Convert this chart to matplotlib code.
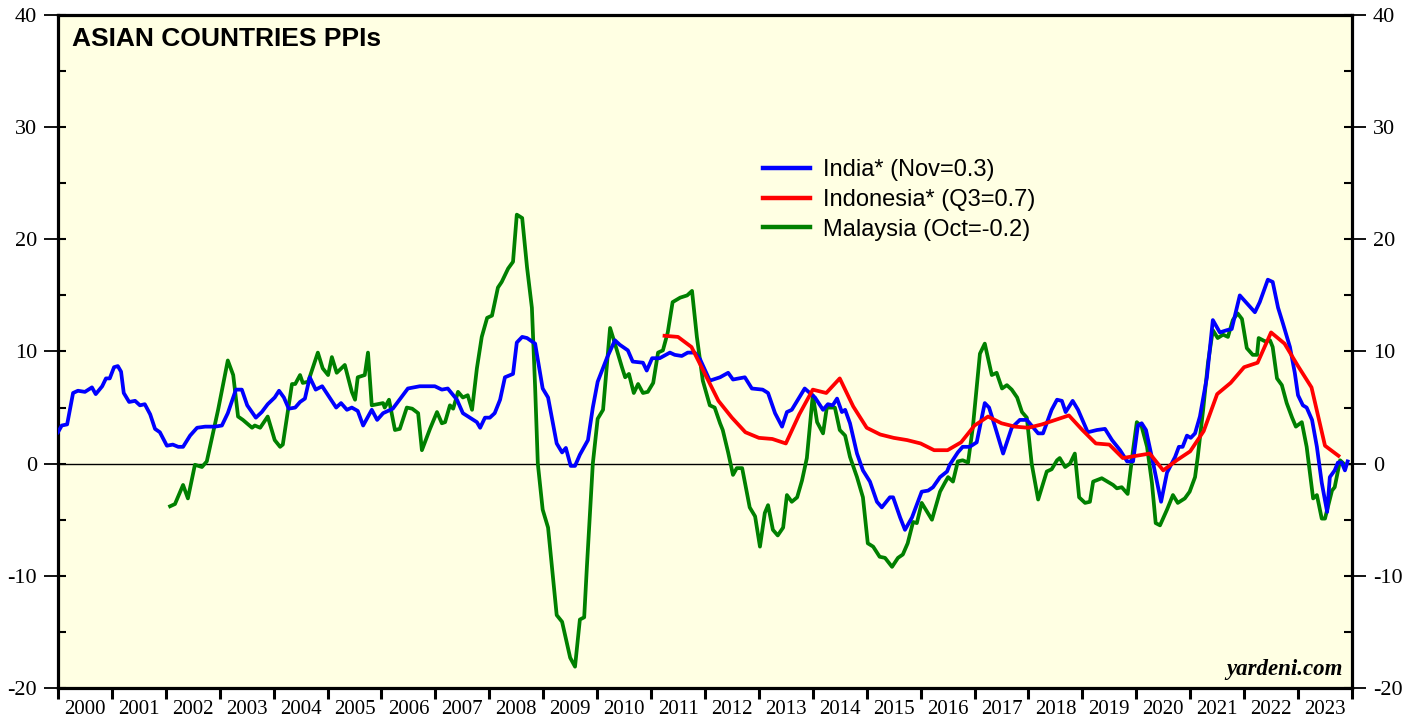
import numpy as np
import matplotlib.pyplot as plt
from matplotlib.ticker import MultipleLocator, FixedLocator, NullFormatter

plt.rcParams['axes.unicode_minus'] = False

# data: decimal years and yoy % values
india_t = [2000.00, 2000.07, 2000.17, 2000.28, 2000.37, 2000.50, 2000.63, 2000.70, 2000.82, 2000.89,
           2000.96, 2001.04, 2001.11, 2001.17, 2001.22, 2001.32, 2001.43, 2001.52, 2001.61, 2001.71,
           2001.80, 2001.89, 2002.02, 2002.13, 2002.23, 2002.32, 2002.45, 2002.58, 2002.73, 2002.91,
           2003.04, 2003.15, 2003.30, 2003.41, 2003.51, 2003.67, 2003.78, 2003.89, 2004.02, 2004.10,
           2004.19, 2004.28, 2004.40, 2004.49, 2004.58, 2004.67, 2004.78, 2004.90, 2005.01, 2005.16,
           2005.25, 2005.36, 2005.45, 2005.56, 2005.66, 2005.82, 2005.92, 2006.03, 2006.21, 2006.49,
           2006.71, 2006.99, 2007.12, 2007.23, 2007.40, 2007.51, 2007.77, 2007.83, 2007.92, 2008.01,
           2008.10, 2008.20, 2008.29, 2008.44, 2008.51, 2008.61, 2008.70, 2008.85, 2008.99, 2009.09,
           2009.25, 2009.35, 2009.42, 2009.51, 2009.59, 2009.68, 2009.83, 2009.92, 2010.01, 2010.18,
           2010.33, 2010.42, 2010.57, 2010.66, 2010.85, 2010.92, 2011.02, 2011.16, 2011.35, 2011.44,
           2011.57, 2011.68, 2011.81, 2011.91, 2012.09, 2012.28, 2012.43, 2012.52, 2012.74, 2012.87,
           2013.07, 2013.17, 2013.30, 2013.43, 2013.52, 2013.61, 2013.85, 2014.04, 2014.19, 2014.28,
           2014.37, 2014.45, 2014.54, 2014.60, 2014.69, 2014.82, 2014.93, 2015.06, 2015.19, 2015.28,
           2015.43, 2015.49, 2015.62, 2015.71, 2015.84, 2016.02, 2016.14, 2016.23, 2016.36, 2016.49,
           2016.54, 2016.69, 2016.78, 2016.91, 2017.04, 2017.19, 2017.27, 2017.38, 2017.53, 2017.69,
           2017.84, 2017.97, 2018.18, 2018.27, 2018.43, 2018.53, 2018.62, 2018.69, 2018.82, 2018.92,
           2019.10, 2019.27, 2019.42, 2019.55, 2019.70, 2019.83, 2019.94, 2020.03, 2020.10, 2020.18,
           2020.31, 2020.46, 2020.57, 2020.72, 2020.79, 2020.86, 2020.94, 2021.01, 2021.09, 2021.18,
           2021.31, 2021.42, 2021.55, 2021.68, 2021.77, 2021.92, 2022.05, 2022.20, 2022.29, 2022.44,
           2022.53, 2022.63, 2022.72, 2022.85, 2022.94, 2023.00, 2023.09, 2023.16, 2023.26, 2023.35,
           2023.44, 2023.54, 2023.59, 2023.68, 2023.74, 2023.81, 2023.87, 2023.92]
india_v = [2.8, 3.4, 3.5, 6.3, 6.5, 6.4, 6.8, 6.2, 6.9, 7.6,
           7.6, 8.6, 8.7, 8.2, 6.3, 5.5, 5.6, 5.2, 5.3, 4.4,
           3.1, 2.8, 1.6, 1.7, 1.5, 1.5, 2.5, 3.2, 3.3, 3.3,
           3.4, 4.5, 6.6, 6.6, 5.2, 4.1, 4.6, 5.3, 5.9, 6.5,
           5.9, 4.9, 5.0, 5.5, 5.8, 7.7, 6.6, 6.9, 6.1, 5.0,
           5.4, 4.8, 5.0, 4.7, 3.4, 4.8, 3.9, 4.5, 4.9, 6.7,
           6.9, 6.9, 6.6, 6.7, 5.7, 4.5, 3.7, 3.2, 4.1, 4.1,
           4.5, 5.7, 7.7, 8.0, 10.8, 11.3, 11.2, 10.7, 6.7, 5.9,
           1.8, 1.0, 1.4, -0.2, -0.2, 0.8, 2.1, 5.0, 7.3, 9.4,
           11.0, 10.6, 10.1, 9.1, 9.0, 8.3, 9.4, 9.4, 9.9, 9.7,
           9.6, 9.9, 9.9, 9.3, 7.4, 7.7, 8.1, 7.5, 7.7, 6.7,
           6.6, 6.3, 4.5, 3.3, 4.6, 4.8, 6.7, 5.9, 4.8, 5.3,
           5.2, 5.8, 4.6, 4.8, 3.6, 0.9, -0.6, -1.6, -3.4, -3.9,
           -3.0, -3.0, -4.8, -5.9, -4.8, -2.5, -2.4, -2.1, -1.2, -0.7,
           -0.1, 1.0, 1.5, 1.5, 1.9, 5.4, 5.0, 3.3, 0.9, 3.2,
           3.9, 3.9, 2.7, 2.7, 4.8, 5.7, 5.6, 4.6, 5.6, 4.8,
           2.8, 3.0, 3.1, 2.1, 1.2, 0.2, 0.2, 3.4, 3.6, 3.0,
           0.1, -3.4, -0.8, 0.6, 1.5, 1.5, 2.5, 2.3, 2.7, 4.2,
           7.7, 12.8, 11.7, 11.9, 12.0, 15.0, 14.3, 13.5, 14.4, 16.4,
           16.2, 13.9, 12.5, 10.4, 8.1, 6.1, 5.2, 5.0, 3.9, 1.5,
           -1.7, -4.3, -1.2, -0.6, 0.1, 0.1, -0.6, 0.2]

# Indonesia is quarterly, 2011 Q1 to 2023 Q3
indonesia_start = 2011.25
indonesia_v = [11.4, 11.3, 10.4, 8.0, 5.6, 4.1, 2.8, 2.3, 2.2, 1.8,
               4.4, 6.6, 6.3, 7.6, 5.1, 3.2, 2.6, 2.3, 2.1, 1.8,
               1.2, 1.2, 1.9, 3.4, 4.2, 3.6, 3.3, 3.2, 3.5, 3.9,
               4.3, 3.0, 1.8, 1.7, 0.5, 0.7, 0.9, -0.6, 0.3, 1.1,
               2.9, 6.2, 7.2, 8.6, 9.0, 11.7, 10.7, 8.7, 6.8, 1.6,
               0.7]

malaysia_t = [2002.08, 2002.17, 2002.32, 2002.41, 2002.54, 2002.67, 2002.76, 2002.97, 2003.15, 2003.25,
              2003.34, 2003.43, 2003.60, 2003.65, 2003.75, 2003.89, 2004.02, 2004.12, 2004.17, 2004.34,
              2004.40, 2004.49, 2004.54, 2004.64, 2004.82, 2004.91, 2005.01, 2005.08, 2005.17, 2005.32,
              2005.45, 2005.51, 2005.56, 2005.69, 2005.75, 2005.82, 2006.03, 2006.06, 2006.14, 2006.25,
              2006.34, 2006.47, 2006.57, 2006.68, 2006.75, 2006.90, 2007.03, 2007.12, 2007.18, 2007.27,
              2007.33, 2007.42, 2007.51, 2007.60, 2007.68, 2007.77, 2007.86, 2007.96, 2008.05, 2008.16,
              2008.23, 2008.35, 2008.44, 2008.51, 2008.61, 2008.70, 2008.79, 2008.85, 2008.90, 2008.99,
              2009.09, 2009.18, 2009.25, 2009.35, 2009.50, 2009.59, 2009.68, 2009.76, 2009.81, 2009.92,
              2010.01, 2010.11, 2010.24, 2010.33, 2010.46, 2010.52, 2010.59, 2010.68, 2010.76, 2010.85,
              2010.94, 2011.04, 2011.13, 2011.22, 2011.31, 2011.40, 2011.54, 2011.67, 2011.76, 2011.85,
              2011.96, 2012.09, 2012.18, 2012.28, 2012.33, 2012.43, 2012.52, 2012.59, 2012.69, 2012.83,
              2012.93, 2013.02, 2013.11, 2013.17, 2013.26, 2013.35, 2013.45, 2013.52, 2013.61, 2013.71,
              2013.80, 2013.89, 2014.00, 2014.08, 2014.19, 2014.26, 2014.41, 2014.50, 2014.60, 2014.69,
              2014.82, 2014.93, 2015.02, 2015.12, 2015.24, 2015.34, 2015.47, 2015.58, 2015.67, 2015.76,
              2015.86, 2015.93, 2016.02, 2016.21, 2016.36, 2016.45, 2016.51, 2016.60, 2016.69, 2016.78,
              2016.88, 2016.97, 2017.10, 2017.19, 2017.32, 2017.41, 2017.51, 2017.60, 2017.69, 2017.79,
              2017.88, 2017.97, 2018.06, 2018.18, 2018.34, 2018.43, 2018.53, 2018.58, 2018.68, 2018.77,
              2018.86, 2018.94, 2019.05, 2019.14, 2019.20, 2019.36, 2019.57, 2019.64, 2019.73, 2019.84,
              2019.94, 2020.01, 2020.10, 2020.20, 2020.29, 2020.36, 2020.44, 2020.57, 2020.68, 2020.77,
              2020.90, 2020.99, 2021.09, 2021.14, 2021.24, 2021.33, 2021.42, 2021.51, 2021.61, 2021.70,
              2021.79, 2021.88, 2021.96, 2022.05, 2022.16, 2022.24, 2022.27, 2022.39, 2022.48, 2022.53,
              2022.61, 2022.70, 2022.79, 2022.89, 2022.96, 2023.07, 2023.16, 2023.28, 2023.35, 2023.44,
              2023.50, 2023.63, 2023.68, 2023.78, 2023.87]
malaysia_v = [-3.8, -3.6, -1.9, -3.1, -0.1, -0.3, 0.2, 4.8, 9.2, 7.9,
              4.2, 3.9, 3.2, 3.4, 3.2, 4.2, 2.1, 1.5, 1.7, 7.1,
              7.1, 7.9, 7.2, 7.3, 9.9, 8.5, 7.9, 9.5, 8.1, 8.8,
              6.4, 5.7, 7.7, 7.9, 9.9, 5.2, 5.4, 5.0, 5.7, 3.0,
              3.1, 5.0, 4.9, 4.5, 1.2, 3.1, 4.6, 3.6, 3.7, 5.2,
              4.9, 6.4, 5.9, 6.1, 4.8, 8.5, 11.3, 13.0, 13.2, 15.7,
              16.2, 17.4, 18.0, 22.2, 21.9, 17.5, 13.9, 6.8, 0.0, -4.1,
              -5.7, -10.1, -13.5, -14.1, -17.3, -18.1, -13.9, -13.7, -9.2, 0.0,
              4.0, 4.8, 12.1, 10.7, 8.6, 7.7, 8.0, 6.3, 7.1, 6.3,
              6.4, 7.2, 9.9, 10.1, 11.7, 14.4, 14.8, 15.0, 15.4, 11.3,
              7.4, 5.2, 5.0, 3.6, 3.0, 1.0, -1.0, -0.4, -0.4, -3.9,
              -4.7, -7.4, -4.4, -3.7, -5.9, -6.4, -5.7, -2.8, -3.4, -3.0,
              -1.5, 0.5, 6.1, 3.7, 2.7, 5.0, 5.0, 3.0, 2.5, 0.6,
              -1.2, -3.0, -7.1, -7.4, -8.3, -8.4, -9.2, -8.4, -8.1, -7.1,
              -5.2, -5.3, -3.5, -5.0, -2.5, -1.7, -1.2, -1.6, 0.2, 0.3,
              0.1, 3.3, 9.8, 10.7, 7.9, 8.1, 6.7, 7.0, 6.6, 5.9,
              4.6, 4.1, 0.0, -3.2, -0.7, -0.5, 0.3, 0.5, -0.3, 0.0,
              0.9, -3.0, -3.5, -3.4, -1.6, -1.3, -1.9, -2.2, -2.1, -2.7,
              1.2, 3.7, 3.3, 1.5, -1.7, -5.3, -5.5, -4.1, -2.8, -3.5,
              -3.1, -2.5, -1.2, 0.6, 4.8, 9.0, 11.9, 11.2, 11.5, 11.3,
              12.8, 13.4, 12.9, 10.3, 9.7, 9.7, 11.2, 10.9, 11.0, 10.4,
              7.6, 7.0, 5.4, 4.1, 3.3, 3.7, 1.5, -3.1, -2.8, -4.9,
              -4.9, -2.4, -2.1, 0.3, -0.1]

labels = ['India* (Nov=0.3)', 'Indonesia* (Q3=0.7)', 'Malaysia (Oct=-0.2)']
years = list(range(2000, 2024))

indonesia_t = indonesia_start + 0.25 * np.arange(len(indonesia_v))

fig = plt.figure(figsize=(14.21, 7.21), dpi=100)
ax = fig.add_axes([0.0408, 0.0458, 0.9106, 0.9334])
ax.set_facecolor('#ffffe3')

ax.axhline(0, color='black', lw=1.0, zorder=1)
l3, = ax.plot(malaysia_t, malaysia_v, color='#008000', lw=2.7, zorder=2)
l1, = ax.plot(india_t, india_v, color='#0000ff', lw=2.7, zorder=3)
l2, = ax.plot(indonesia_t, indonesia_v, color='#ff0000', lw=2.7, zorder=4)

ax.set_xlim(2000, 2024)
ax.set_ylim(-20, 40)

# x axis: tick at each year boundary, label in the middle of the year
ax.xaxis.set_major_locator(FixedLocator(range(2000, 2025)))
ax.xaxis.set_major_formatter(NullFormatter())
ax.xaxis.set_minor_locator(FixedLocator([y + 0.5 for y in years]))
ax.set_xticklabels([str(y) for y in years], minor=True)
ax.tick_params(axis='x', which='major', direction='out', length=8, width=2.2)
ax.tick_params(axis='x', which='minor', length=0, pad=9)

# y axis: labelled ticks outward every 10, small inward ticks every 5
ax.yaxis.set_major_locator(MultipleLocator(10))
ax.yaxis.set_minor_locator(MultipleLocator(5))
ax.yaxis.remove_overlapping_locs = False
ax.tick_params(axis='y', which='major', direction='out', length=10, width=1.3,
               left=True, right=True, labelleft=True, labelright=True, pad=5)
ax.tick_params(axis='y', which='minor', direction='in', length=6, width=1.5,
               left=True, right=True)

for lab in ax.get_xticklabels(minor=True):
    lab.set_fontfamily('Liberation Serif')
    lab.set_fontsize(15)
for lab in ax.get_yticklabels():
    lab.set_fontfamily('Liberation Serif')
    lab.set_fontsize(16)

for s in ax.spines.values():
    s.set_linewidth(2.3)

ax.text(0.011, 0.965, 'ASIAN COUNTRIES PPIs', transform=ax.transAxes,
        fontfamily='Liberation Sans', fontweight='bold', fontsize=19, va='center', ha='left')
ax.text(0.993, 0.012, 'yardeni.com', transform=ax.transAxes,
        fontfamily='Liberation Serif', fontweight='bold', fontstyle='italic', fontsize=16.5,
        va='bottom', ha='right')

leg = ax.legend([l1, l2, l3], labels, loc='upper left', bbox_to_anchor=(0.532, 0.81),
                frameon=False, prop={'family': 'Liberation Sans', 'size': 17},
                handlelength=2.0, handletextpad=0.55, labelspacing=0.32, borderaxespad=0.3)
for h in leg.get_lines():
    h.set_linewidth(3.2)

plt.savefig('out.png', dpi=100)
